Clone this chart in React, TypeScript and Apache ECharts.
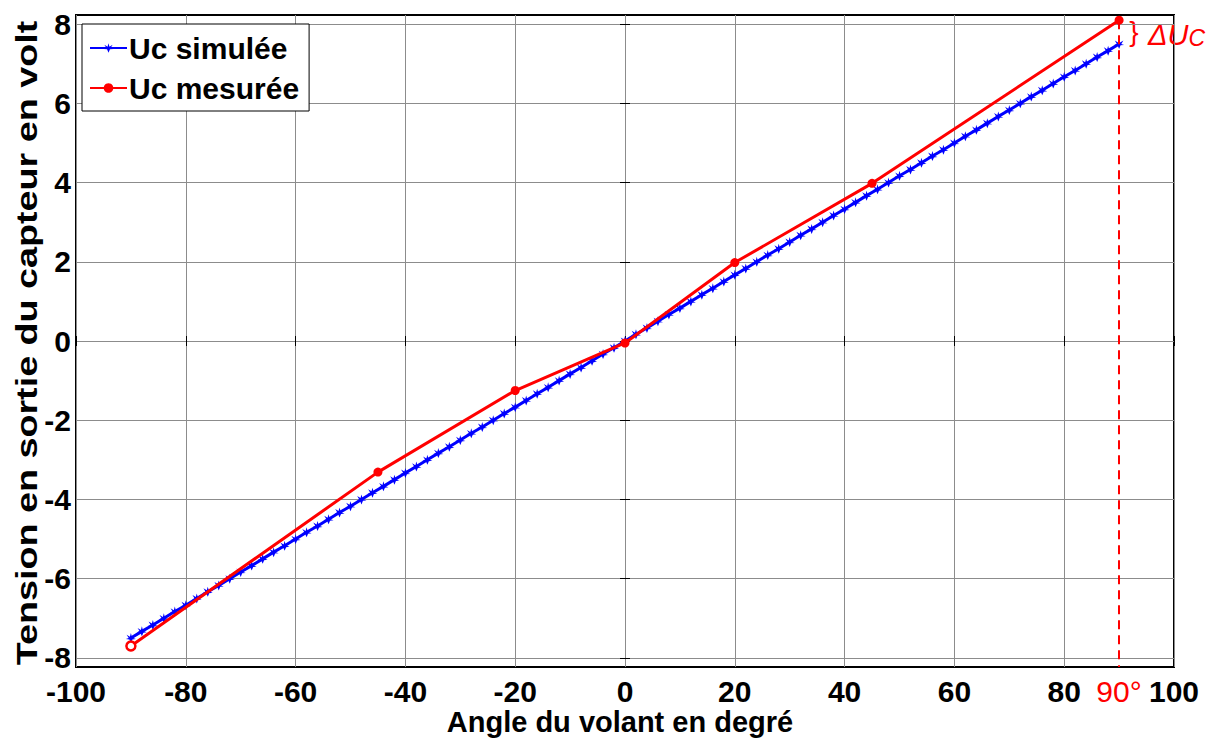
import React, { useEffect, useRef } from "react";
import * as echarts from "echarts";

const simAngles = [
  -90, -88, -86, -84, -82, -80, -78, -76, -74, -72, -70, -68, -66, -64, -62, -60,
  -58, -56, -54, -52, -50, -48, -46, -44, -42, -40, -38, -36, -34, -32, -30, -28,
  -26, -24, -22, -20, -18, -16, -14, -12, -10, -8, -6, -4, -2, 0, 2, 4, 6, 8, 10,
  12, 14, 16, 18, 20, 22, 24, 26, 28, 30, 32, 34, 36, 38, 40, 42, 44, 46, 48, 50,
  52, 54, 56, 58, 60, 62, 64, 66, 68, 70, 72, 74, 76, 78, 80, 82, 84, 86, 88, 90,
];
const simValues = [
  -7.5, -7.33, -7.17, -7.0, -6.83, -6.67, -6.5, -6.33, -6.17, -6.0, -5.83, -5.67,
  -5.5, -5.33, -5.17, -5.0, -4.83, -4.67, -4.5, -4.33, -4.17, -4.0, -3.83, -3.67,
  -3.5, -3.33, -3.17, -3.0, -2.83, -2.67, -2.5, -2.33, -2.17, -2.0, -1.83, -1.67,
  -1.5, -1.33, -1.17, -1.0, -0.83, -0.67, -0.5, -0.33, -0.17, 0, 0.17, 0.33, 0.5,
  0.67, 0.83, 1.0, 1.17, 1.33, 1.5, 1.67, 1.83, 2.0, 2.17, 2.33, 2.5, 2.67, 2.83,
  3.0, 3.17, 3.33, 3.5, 3.67, 3.83, 4.0, 4.17, 4.33, 4.5, 4.67, 4.83, 5.0, 5.17,
  5.33, 5.5, 5.67, 5.83, 6.0, 6.17, 6.33, 6.5, 6.67, 6.83, 7.0, 7.17, 7.33, 7.5,
];
const measAngles = [-90, -45, -20, 0, 20, 45, 90];
const measValues = [-7.7, -3.31, -1.25, -0.05, 1.98, 3.98, 8.1];

const xTicks = [-100, -80, -60, -40, -20, 0, 20, 40, 60, 80, 100];
const yTicks = [-8, -6, -4, -2, 0, 2, 4, 6, 8];

const simName = "Uc simulée";
const measName = "Uc mesurée";
const markAngle = 90;

const FONT = "'Liberation Sans', Arial, sans-serif";
const STAR = "path://M5,0 L6,3.6 L9.3,1.6 L7.2,5 L10,6 L6.5,6.4 L5,10 L3.5,6.4 L0,6 L2.8,5 L0.7,1.6 L4,3.6 Z";

export default function App() {
  const ref = useRef<HTMLDivElement>(null);
  useEffect(() => {
    if (!ref.current) return;
    const chart = echarts.init(ref.current, null, { renderer: "svg" });
    const gridL = 76, gridT = 15, gridW = 1098, gridH = 652;
    const xMin = -100, xMax = 100, yMin = -8.23, yMax = 8.23;
    const baseAxisX = {
      type: "value" as const,
      min: xMin,
      max: xMax,
      axisLine: { show: false },
      axisTick: { show: true, inside: true, length: 5, customValues: xTicks, lineStyle: { color: "#000", width: 1 } },
    };
    const baseAxisY = {
      type: "value" as const,
      min: yMin,
      max: yMax,
      axisLine: { show: false },
      axisTick: { show: true, inside: true, length: 5, customValues: yTicks, lineStyle: { color: "#000", width: 1 } },
    };
    chart.setOption({
      animation: false,
      backgroundColor: "#fff",
      grid: {
        left: gridL,
        top: gridT,
        width: gridW,
        height: gridH,
        show: true,
        borderColor: "#000",
        borderWidth: 2,
        backgroundColor: "transparent",
      },
      legend: {
        orient: "vertical",
        left: 82,
        top: 24,
        padding: [9, 10, 8, 7],
        itemGap: 10,
        itemWidth: 37,
        itemHeight: 12,
        backgroundColor: "#fff",
        borderColor: "#000",
        borderWidth: 1,
        borderRadius: 0,
        textStyle: { fontFamily: FONT, fontWeight: "bold", fontSize: 30, color: "#000", padding: [0, 0, 0, -3] },
        data: [simName, measName],
      },
      xAxis: [
        {
          ...baseAxisX,
          position: "bottom",
          splitLine: { show: true, lineStyle: { color: "#8c8c8c", width: 1 } },
          axisLabel: {
            show: true,
            customValues: xTicks,
            margin: 9,
            fontFamily: FONT,
            fontWeight: "bold",
            fontSize: 30,
            color: "#000",
          },
        },
        {
          ...baseAxisX,
          position: "top",
          splitLine: { show: false },
          axisLabel: { show: false },
        },
      ],
      yAxis: [
        {
          ...baseAxisY,
          position: "left",
          splitLine: { show: true, lineStyle: { color: "#8c8c8c", width: 1 } },
          axisLabel: {
            show: true,
            customValues: yTicks,
            margin: 5,
            fontFamily: FONT,
            fontWeight: "bold",
            fontSize: 30,
            color: "#000",
          },
        },
        {
          ...baseAxisY,
          position: "right",
          splitLine: { show: false },
          axisLabel: { show: false },
        },
      ],
      series: [
        {
          name: simName,
          type: "line",
          xAxisIndex: 0,
          yAxisIndex: 0,
          data: simAngles.map((a, i) => [a, simValues[i]]),
          symbol: STAR,
          symbolSize: 10,
          showAllSymbol: true,
          lineStyle: { color: "#0000ff", width: 3 },
          itemStyle: { color: "#0000ff" },
          z: 2,
        },
        {
          name: measName,
          type: "line",
          xAxisIndex: 0,
          yAxisIndex: 0,
          data: measAngles.map((a, i) =>
            i === 0
              ? { value: [a, measValues[i]], itemStyle: { color: "#fff", borderColor: "#ff0000", borderWidth: 2.5 } }
              : [a, measValues[i]]
          ),
          symbol: "circle",
          symbolSize: 9,
          showAllSymbol: true,
          lineStyle: { color: "#ff0000", width: 3 },
          itemStyle: { color: "#ff0000" },
          z: 3,
          markLine: {
            silent: true,
            symbol: "none",
            label: { show: false },
            lineStyle: { color: "#ff0000", type: [9, 6], width: 2 },
            data: [
              [
                { coord: [markAngle, measValues[measValues.length - 1]] },
                { coord: [markAngle, yMin] },
              ],
            ],
          },
        },
      ],
      graphic: [
        {
          type: "text",
          x: 620,
          y: 722,
          style: {
            text: "Angle du volant en degré",
            font: `bold 29px ${FONT}`,
            fill: "#000",
            align: "center",
            verticalAlign: "middle",
          },
        },
        {
          type: "text",
          x: 27,
          y: 343,
          rotation: Math.PI / 2,
          scaleX: 1.3,
          style: {
            text: "Tension en sortie du capteur en volt",
            font: `bold 29px ${FONT}`,
            fill: "#000",
            align: "center",
            verticalAlign: "middle",
          },
        },
        {
          type: "text",
          x: 1119,
          y: 691,
          style: {
            text: "90°",
            font: `30px ${FONT}`,
            fill: "#ff0000",
            align: "center",
            verticalAlign: "middle",
          },
        },
        {
          type: "text",
          x: 1134,
          y: 31,
          style: {
            text: "}",
            font: `28px ${FONT}`,
            fill: "#ff0000",
            align: "center",
            verticalAlign: "middle",
          },
        },
        {
          type: "text",
          x: 1148,
          y: 34,
          style: {
            text: "{a|ΔU}{b|C}",
            fill: "#ff0000",
            align: "left",
            verticalAlign: "middle",
            rich: {
              a: { font: `italic 29px ${FONT}`, fill: "#ff0000", verticalAlign: "bottom" },
              b: { font: `italic 23px ${FONT}`, fill: "#ff0000", padding: [8, 0, 0, 0], verticalAlign: "bottom" },
            },
          },
        },
      ],
    });
    return () => chart.dispose();
  }, []);
  return (
    <div
      ref={ref}
      style={{ position: "absolute", left: 0, top: 0, width: 1221, height: 745 }}
    />
  );
}
